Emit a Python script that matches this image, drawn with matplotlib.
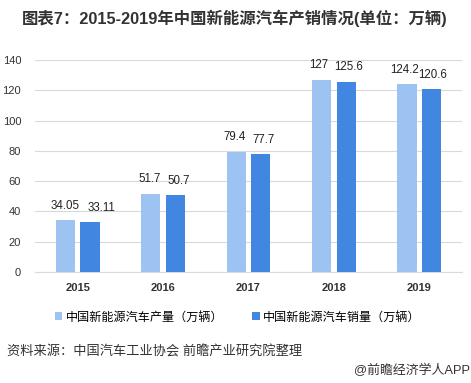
import matplotlib
matplotlib.use("Agg")
import matplotlib.pyplot as plt
import numpy as np

plt.rcParams['font.family'] = ['Liberation Sans', 'Noto Sans CJK SC', 'DejaVu Sans']

years = ['2015', '2016', '2017', '2018', '2019']
production = [34.05, 51.7, 79.4, 127, 124.2]
sales = [33.11, 50.7, 77.7, 125.6, 120.6]
prod_labels = ['34.05', '51.7', '79.4', '127', '124.2']
sales_labels = ['33.11', '50.7', '77.7', '125.6', '120.6']
yticks = [0, 20, 40, 60, 80, 100, 120, 140]

c_light = '#9DC3F3'
c_dark = '#4186E0'

fig = plt.figure(figsize=(4.71, 3.83), dpi=100)
ax = fig.add_axes([35 / 471, 1 - 272 / 383, 427 / 471, 212 / 383])

x = np.arange(len(years))
w = 0.225
b1 = ax.bar(x - 0.145, production, w, color=c_light, label='中国新能源汽车产量（万辆）', zorder=3)
b2 = ax.bar(x + 0.145, sales, w, color=c_dark, label='中国新能源汽车销量（万辆）', zorder=3)

# small sideways nudges (points) so neighbouring labels don't collide
prod_dx = [0, -1, -1, -2, -2]
sales_dx = [8, 2, 2, 2, 1]
for rect, lab, dx in zip(b1, prod_labels, prod_dx):
    ax.annotate(lab, (rect.get_x() + rect.get_width() / 2, rect.get_height()),
                xytext=(dx, 6), textcoords='offset points',
                ha='center', va='bottom', fontsize=8.3, color='#222222')
for rect, lab, dx in zip(b2, sales_labels, sales_dx):
    ax.annotate(lab, (rect.get_x() + rect.get_width() / 2, rect.get_height()),
                xytext=(dx, 6), textcoords='offset points',
                ha='center', va='bottom', fontsize=8.3, color='#222222')

ax.set_xlim(-0.5, 4.5)
ax.set_ylim(0, 140)
ax.set_yticks(yticks)
ax.set_xticks(x)
ax.set_xticklabels(years, fontsize=8, fontweight='bold', color='#333333')
ax.tick_params(axis='y', labelsize=8, colors='#333333', length=0, pad=10)
ax.tick_params(axis='x', length=0, pad=8)
ax.grid(axis='y', color='#D9D9D9', linewidth=0.8, zorder=0)
for s in ['top', 'right', 'left']:
    ax.spines[s].set_visible(False)
ax.spines['bottom'].set_color('#D9D9D9')

ax.legend(loc='upper center', bbox_to_anchor=(0.475, -0.135), ncol=2, frameon=False,
          fontsize=8.7, handlelength=0.6, handleheight=0.6, handletextpad=0.3,
          columnspacing=2.4)

fig.text(22 / 471, 1 - 18 / 383, '图表7：2015-2019年中国新能源汽车产销情况(单位：万辆)',
         fontsize=11.8, fontweight='bold', color='#333333', va='center', ha='left')
fig.text(7 / 471, 1 - 352 / 383, '资料来源：中国汽车工业协会 前瞻产业研究院整理',
         fontsize=9.5, color='#333333', va='center', ha='left')
fig.text(470 / 471, 1 - 370 / 383, '@前瞻经济学人APP',
         fontsize=9.3, color='#333333', va='center', ha='right')

fig.savefig('out.png', dpi=100)
